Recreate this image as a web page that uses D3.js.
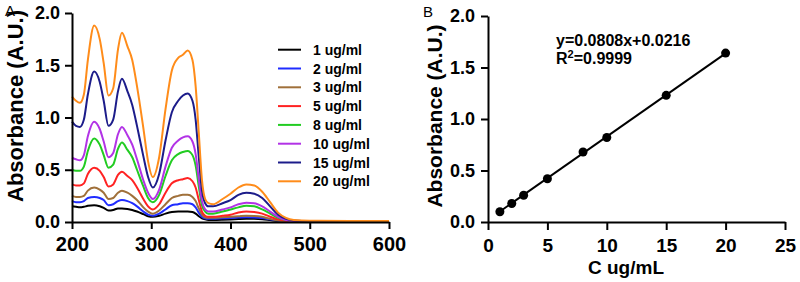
<!DOCTYPE html>
<html>
<head>
<meta charset="utf-8">
<script src="https://cdn.jsdelivr.net/npm/d3@7"></script>
<style>
  html, body { margin: 0; padding: 0; background: #fff; }
  svg { display: block; font-family: "Liberation Sans", Arial, sans-serif; }
  .axis path, .axis line { stroke: #000; stroke-width: 2px; }
  .axis text { font-weight: bold; fill: #000; }
</style>
</head>
<body>
<div id="container"></div>
<script>
// wavelengths (nm) for panel A
const wavelengths = [200,205,210,215,220,228,235,240,246,252,258,263,270,276,282,290,296,302,310,318,326,334,340,346,352,356,360,364,368,372,378,390,400,410,420,430,440,450,460,470,480,500,550,600];

const spec1  = [0.15,0.145,0.14,0.145,0.155,0.16,0.15,0.135,0.11,0.115,0.13,0.13,0.125,0.115,0.10,0.075,0.055,0.05,0.06,0.08,0.095,0.10,0.10,0.10,0.095,0.08,0.055,0.035,0.025,0.02,0.02,0.022,0.025,0.028,0.03,0.03,0.026,0.018,0.01,0.006,0.004,0.003,0.003,0.003];
const spec2  = [0.20,0.19,0.19,0.20,0.23,0.24,0.23,0.21,0.16,0.17,0.20,0.21,0.20,0.18,0.15,0.10,0.07,0.06,0.08,0.12,0.16,0.17,0.18,0.18,0.17,0.14,0.09,0.05,0.035,0.03,0.03,0.035,0.038,0.042,0.045,0.044,0.038,0.025,0.012,0.006,0.005,0.004,0.004,0.004];
const spec3  = [0.25,0.24,0.24,0.25,0.30,0.33,0.31,0.28,0.22,0.23,0.28,0.30,0.28,0.25,0.21,0.14,0.10,0.08,0.11,0.17,0.23,0.25,0.26,0.26,0.24,0.20,0.13,0.07,0.045,0.04,0.04,0.045,0.05,0.055,0.06,0.058,0.05,0.03,0.015,0.008,0.006,0.005,0.005,0.005];
const spec5  = [0.36,0.35,0.35,0.37,0.46,0.52,0.49,0.43,0.34,0.36,0.45,0.48,0.44,0.40,0.33,0.22,0.15,0.12,0.17,0.28,0.37,0.40,0.41,0.42,0.39,0.33,0.21,0.10,0.06,0.05,0.05,0.06,0.07,0.09,0.10,0.095,0.08,0.05,0.025,0.012,0.008,0.006,0.005,0.005];
const spec8  = [0.50,0.49,0.49,0.53,0.68,0.80,0.74,0.64,0.52,0.55,0.70,0.76,0.69,0.62,0.50,0.34,0.23,0.19,0.26,0.44,0.59,0.65,0.67,0.68,0.64,0.54,0.34,0.16,0.10,0.08,0.08,0.10,0.12,0.14,0.155,0.15,0.12,0.08,0.04,0.02,0.01,0.007,0.006,0.006];
const spec10 = [0.615,0.60,0.59,0.64,0.82,0.96,0.89,0.77,0.62,0.66,0.84,0.91,0.83,0.74,0.60,0.40,0.28,0.22,0.31,0.53,0.71,0.78,0.81,0.82,0.77,0.65,0.41,0.20,0.12,0.10,0.10,0.12,0.14,0.17,0.185,0.18,0.15,0.10,0.05,0.02,0.01,0.008,0.006,0.006];
const spec15 = [0.96,0.92,0.91,0.98,1.22,1.44,1.34,1.16,0.92,0.98,1.25,1.37,1.25,1.12,0.92,0.63,0.43,0.33,0.46,0.78,1.05,1.16,1.21,1.23,1.16,0.98,0.62,0.30,0.18,0.15,0.15,0.18,0.21,0.26,0.28,0.27,0.23,0.15,0.07,0.03,0.015,0.01,0.01,0.01];
const spec20 = [1.20,1.16,1.14,1.22,1.55,1.88,1.75,1.52,1.21,1.28,1.65,1.81,1.68,1.55,1.30,0.90,0.58,0.43,0.62,1.08,1.45,1.57,1.60,1.64,1.55,1.30,0.85,0.40,0.22,0.18,0.17,0.22,0.27,0.33,0.36,0.35,0.29,0.19,0.09,0.04,0.02,0.012,0.01,0.01];

const seriesNames = ["1 ug/ml","2 ug/ml","3 ug/ml","5 ug/ml","8 ug/ml","10 ug/ml","15 ug/ml","20 ug/ml"];
const seriesColors = ["#000000","#1f2cff","#a0703a","#ff2222","#22cc22","#b233e6","#1c1c8a","#ff8c1a"];
const spectra = [spec1, spec2, spec3, spec5, spec8, spec10, spec15, spec20];

const tickA_x = [200,300,400,500,600];
const tickY = [0,0.5,1.0,1.5,2.0];

// panel B calibration
const concentrations = [1,2,3,5,8,10,15,20];
const absorbances = [0.10,0.18,0.26,0.42,0.68,0.82,1.23,1.64];
const slope = 0.0808, intercept = 0.0216;
const tickB_x = [0,5,10,15,20,25];

const svg = d3.select("#container").append("svg")
  .attr("width", 800)
  .attr("height", 282);

// ---------- Panel A ----------
const xA = d3.scaleLinear().domain([200,600]).range([72,389]);
const yA = d3.scaleLinear().domain([0,2]).range([222,13]);

const line = d3.line()
  .x(d => xA(d[0]))
  .y(d => yA(d[1]))
  .curve(d3.curveMonotoneX);

spectra.forEach((s, i) => {
  svg.append("path")
    .datum(wavelengths.map((w, j) => [w, s[j]]))
    .attr("fill", "none")
    .attr("stroke", seriesColors[i])
    .attr("stroke-width", 2)
    .attr("d", line);
});

svg.append("g")
  .attr("class", "axis")
  .attr("transform", "translate(0,222)")
  .call(d3.axisBottom(xA).tickValues(tickA_x).tickSize(7).tickPadding(8).tickSizeOuter(0))
  .selectAll("text").style("font-size", "20px");

svg.append("g")
  .attr("class", "axis")
  .attr("transform", "translate(72,0)")
  .call(d3.axisLeft(yA).tickValues(tickY).tickFormat(d3.format(".1f")).tickSize(7).tickPadding(5).tickSizeOuter(0))
  .selectAll("text").style("font-size", "18px");

svg.append("text")
  .attr("transform", "translate(23,106) rotate(-90)")
  .attr("text-anchor", "middle")
  .style("font-size", "22px")
  .style("font-weight", "bold")
  .text("Absorbance (A.U.)");

// legend
const legend = svg.append("g");
seriesNames.forEach((name, i) => {
  const ly = 49.7 + i * 18.8;
  legend.append("line")
    .attr("x1", 278).attr("x2", 301)
    .attr("y1", ly).attr("y2", ly)
    .attr("stroke", seriesColors[i])
    .attr("stroke-width", 2);
  legend.append("text")
    .attr("x", 313)
    .attr("y", ly + 5)
    .style("font-size", "14px")
    .style("font-weight", "bold")
    .text(name);
});

svg.append("text")
  .attr("x", 5).attr("y", 16)
  .style("font-size", "15px")
  .text("A");

// ---------- Panel B ----------
const xB = d3.scaleLinear().domain([0,25]).range([488,785]);
const yB = d3.scaleLinear().domain([0,2]).range([222,16]);

svg.append("line")
  .attr("x1", xB(concentrations[0]))
  .attr("x2", xB(concentrations[concentrations.length - 1]))
  .attr("y1", yB(slope * concentrations[0] + intercept))
  .attr("y2", yB(slope * concentrations[concentrations.length - 1] + intercept))
  .attr("stroke", "#000")
  .attr("stroke-width", 2);

svg.selectAll(".dot")
  .data(concentrations.map((c, i) => [c, absorbances[i]]))
  .enter()
  .append("circle")
  .attr("class", "dot")
  .attr("cx", d => xB(d[0]))
  .attr("cy", d => yB(d[1]))
  .attr("r", 4.5)
  .attr("fill", "#000");

svg.append("g")
  .attr("class", "axis")
  .attr("transform", "translate(0,222)")
  .call(d3.axisBottom(xB).tickValues(tickB_x).tickSize(8).tickPadding(9).tickSizeOuter(0))
  .selectAll("text").style("font-size", "19px");

svg.append("g")
  .attr("class", "axis")
  .attr("transform", "translate(488,0)")
  .call(d3.axisLeft(yB).tickValues(tickY).tickFormat(d3.format(".1f")).tickSize(7).tickPadding(6).tickSizeOuter(0))
  .selectAll("text").style("font-size", "18px");

svg.append("text")
  .attr("transform", "translate(442,116) rotate(-90)")
  .attr("text-anchor", "middle")
  .style("font-size", "21px")
  .style("font-weight", "bold")
  .text("Absorbance (A.U.)");

svg.append("text")
  .attr("x", 626).attr("y", 274)
  .attr("text-anchor", "middle")
  .style("font-size", "19px")
  .style("font-weight", "bold")
  .text("C ug/mL");

svg.append("text")
  .attr("x", 556).attr("y", 46)
  .style("font-size", "16px")
  .style("font-weight", "bold")
  .text("y=0.0808x+0.0216");

const r2 = svg.append("text")
  .attr("x", 556).attr("y", 64)
  .style("font-size", "16px")
  .style("font-weight", "bold");
r2.append("tspan").text("R");
r2.append("tspan").attr("dy", -6).style("font-size", "11px").text("2");
r2.append("tspan").attr("dy", 6).text("=0.9999");

svg.append("text")
  .attr("x", 423).attr("y", 17)
  .style("font-size", "15px")
  .text("B");
</script>
</body>
</html>
